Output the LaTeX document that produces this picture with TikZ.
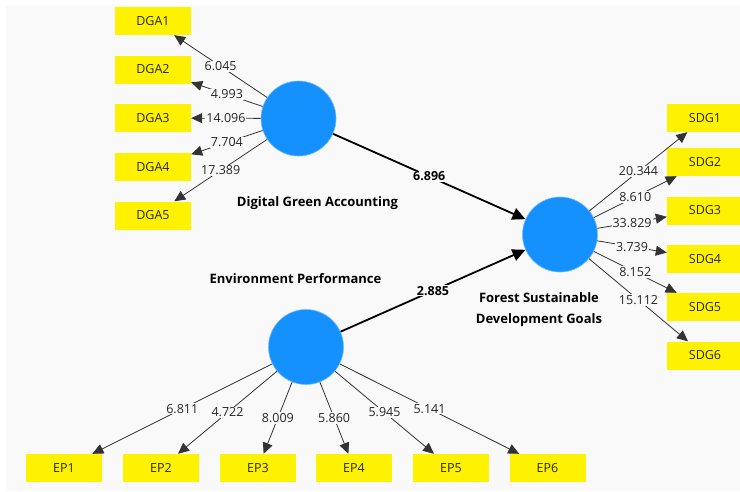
\documentclass[tikz,border=0pt]{standalone}
\usepackage{fontspec}
\setmainfont{Open Sans}
\usetikzlibrary{arrows.meta}
\definecolor{bg}{RGB}{249,249,249}
\definecolor{lv}{RGB}{20,145,255}
\begin{document}
\begin{tikzpicture}[x=1pt,y=-1pt,
 ind/.style={fill=yellow, minimum width=76pt, minimum height=28pt, inner sep=0pt, font=\fontsize{12.5}{14}\selectfont, text=black!85},
 lat/.style={circle, fill=lv, draw=lv!60!white, line width=0.6pt, minimum size=75pt, inner sep=0pt},
 load/.style={draw=black!80, line width=0.8pt, -{Triangle[length=11pt,width=10pt]}},
 pth/.style={draw=black, line width=1.8pt, -{Triangle[length=13pt,width=12pt]}},
 lbl/.style={fill=bg, inner sep=1pt, font=\fontsize{12.5}{14}\selectfont, text=black!85},
 blbl/.style={fill=bg, inner sep=1pt, font=\bfseries\fontsize{12.5}{14}\selectfont},
 lname/.style={font=\bfseries\fontsize{13}{21}\selectfont, align=center}
]
\useasboundingbox (0,0) rectangle (740,491);
\fill[bg] (6,5) rectangle (740,491);

% latent variables
\node[lat] (dga) at (298.5,118.5) {};
\node[lat] (fsdg) at (560,234.5) {};
\node[lat] (ep) at (306,347) {};

% names
\node[lname] (ndga) at (317.5,203) {Digital Green Accounting};
\node[lname] (nep) at (295.5,279) {Environment Performance};
\node[lname] (nfsdg) at (539,310) {Forest Sustainable\\Development Goals};

% indicators
\node[ind] (DGA1) at (153,21) {DGA1};
\node[ind] (DGA2) at (153,69.5) {DGA2};
\node[ind] (DGA3) at (153,118) {DGA3};
\node[ind] (DGA4) at (153,167) {DGA4};
\node[ind] (DGA5) at (153,215.5) {DGA5};

\node[ind] (SDG1) at (705,118) {SDG1};
\node[ind] (SDG2) at (705,162) {SDG2};
\node[ind] (SDG3) at (705,210.5) {SDG3};
\node[ind] (SDG4) at (705,259) {SDG4};
\node[ind] (SDG5) at (705,307) {SDG5};
\node[ind] (SDG6) at (705,355.5) {SDG6};

\node[ind] (EP1) at (64,468) {EP1};
\node[ind] (EP2) at (161,468) {EP2};
\node[ind] (EP3) at (258,468) {EP3};
\node[ind] (EP4) at (354,468) {EP4};
\node[ind] (EP5) at (451,468) {EP5};
\node[ind] (EP6) at (547.5,468) {EP6};

% loadings
\draw[load] (dga) -- node[lbl]{6.045} (DGA1);
\draw[load] (dga) -- node[lbl]{4.993} (DGA2);
\draw[load] (dga) -- node[lbl]{14.096} (DGA3);
\draw[load] (dga) -- node[lbl]{7.704} (DGA4);
\draw[load] (dga) -- node[lbl]{17.389} (DGA5);

\draw[load] (fsdg) -- node[lbl]{20.344} (SDG1);
\draw[load] (fsdg) -- node[lbl]{8.610} (SDG2);
\draw[load] (fsdg) -- node[lbl]{33.829} (SDG3);
\draw[load] (fsdg) -- node[lbl]{3.739} (SDG4);
\draw[load] (fsdg) -- node[lbl]{8.152} (SDG5);
\draw[load] (fsdg) -- node[lbl]{15.112} (SDG6);

\draw[load] (ep) -- node[lbl]{6.811} (EP1);
\draw[load] (ep) -- node[lbl]{4.722} (EP2);
\draw[load] (ep) -- node[lbl]{8.009} (EP3);
\draw[load] (ep) -- node[lbl]{5.860} (EP4);
\draw[load] (ep) -- node[lbl]{5.945} (EP5);
\draw[load] (ep) -- node[lbl]{5.141} (EP6);

% structural paths
\draw[pth] (dga) -- node[blbl]{6.896} (fsdg);
\draw[pth] (ep) -- node[blbl]{2.885} (fsdg);
\end{tikzpicture}
\end{document}
